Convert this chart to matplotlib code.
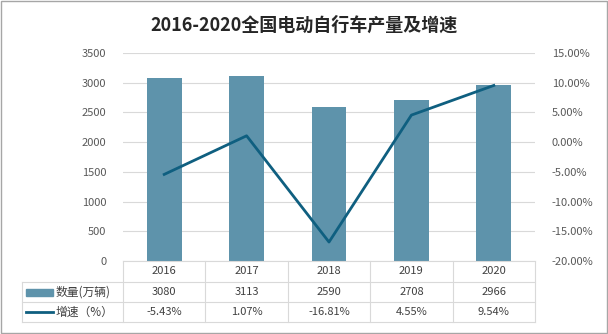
import matplotlib.pyplot as plt
from matplotlib.patches import Rectangle
from matplotlib.lines import Line2D
import numpy as np

plt.rcParams['font.family'] = ['Noto Sans CJK SC', 'DejaVu Sans']

YEARS = ['2016', '2017', '2018', '2019', '2020']
VOLUME = [3080, 3113, 2590, 2708, 2966]          # 万辆
GROWTH = [-5.43, 1.07, -16.81, 4.55, 9.54]       # %
VOLUME_LABELS = ['3080', '3113', '2590', '2708', '2966']
GROWTH_LABELS = ['-5.43%', '1.07%', '-16.81%', '4.55%', '9.54%']

BAR_COLOR = '#5e93ab'
LINE_COLOR = '#0f5f80'
GRID = '#d9d9d9'
TXT = '#595959'

W, H = 608, 334
fig = plt.figure(figsize=(W / 100, H / 100), dpi=100)

def fx(px):
    return px / W

def fy(py):
    return 1 - py / H

L, R, T, B = 123, 535, 53, 261
ax = fig.add_axes([fx(L), fy(B), fx(R) - fx(L), fy(T) - fy(B)])
x = np.arange(len(YEARS))
ax.bar(x, VOLUME, width=0.42, color=BAR_COLOR, zorder=2)
ax.set_xlim(-0.5, len(YEARS) - 0.5)
ax.set_ylim(0, 3500)
ax.set_yticks(np.arange(0, 3501, 500))
ax.yaxis.grid(True, color=GRID, lw=0.8, zorder=0)
ax.set_xticks([])
for s in ['top', 'right', 'left']:
    ax.spines[s].set_visible(False)
ax.spines['bottom'].set_color(GRID)
ax.tick_params(axis='y', length=0, labelsize=8, labelcolor=TXT, pad=12)

ax2 = ax.twinx()
ax2.plot(x, GROWTH, color=LINE_COLOR, lw=2, zorder=3)
ax2.set_ylim(-20, 15)
ax2.set_yticks(np.arange(-20, 15.1, 5))
ax2.set_yticklabels([f'{v:.2f}%' for v in np.arange(-20, 15.1, 5)])
for s in ['top', 'right', 'left', 'bottom']:
    ax2.spines[s].set_visible(False)
ax2.tick_params(axis='y', length=0, labelsize=8, labelcolor=TXT, pad=12)

fig.text(0.5, fy(25), '2016-2020全国电动自行车产量及增速', ha='center', va='center',
         fontsize=13, fontweight='bold', color='#262626')

# data table below the plot
col_w = (R - L) / len(YEARS)
rows = [B, 282, 302, 322]
tl = dict(color=GRID, lw=0.8, transform=fig.transFigure)
fig.add_artist(Line2D([fx(22), fx(R)], [fy(282), fy(282)], **tl))
fig.add_artist(Line2D([fx(22), fx(R)], [fy(302), fy(302)], **tl))
fig.add_artist(Line2D([fx(22), fx(R)], [fy(322), fy(322)], **tl))
fig.add_artist(Line2D([fx(22), fx(22)], [fy(282), fy(322)], **tl))
for i in range(len(YEARS) + 1):
    xp = L + i * col_w
    fig.add_artist(Line2D([fx(xp), fx(xp)], [fy(B), fy(322)], **tl))

for i in range(len(YEARS)):
    cx = fx(L + (i + 0.5) * col_w)
    fig.text(cx, fy(271.5), YEARS[i], ha='center', va='center', fontsize=8, color='#404040')
    fig.text(cx, fy(292), VOLUME_LABELS[i], ha='center', va='center', fontsize=8, color='#404040')
    fig.text(cx, fy(312), GROWTH_LABELS[i], ha='center', va='center', fontsize=8, color='#404040')

fig.add_artist(Rectangle((fx(26), fy(295.5)), fx(53) - fx(26), fy(288.5) - fy(295.5),
                         color=BAR_COLOR, transform=fig.transFigure))
fig.add_artist(Line2D([fx(26), fx(53)], [fy(312), fy(312)], color=LINE_COLOR, lw=2,
                      transform=fig.transFigure))
fig.text(fx(56), fy(292), '数量(万辆)', ha='left', va='center', fontsize=8.5, color='#404040')
fig.text(fx(56), fy(312), '增速（%）', ha='left', va='center', fontsize=8.5, color='#404040')

fig.add_artist(Rectangle((fx(1), fy(333)), fx(606), fy(1) - fy(333), fill=False,
                         edgecolor='#a6a6a6', lw=1, transform=fig.transFigure))

fig.savefig('out.png', dpi=100)
